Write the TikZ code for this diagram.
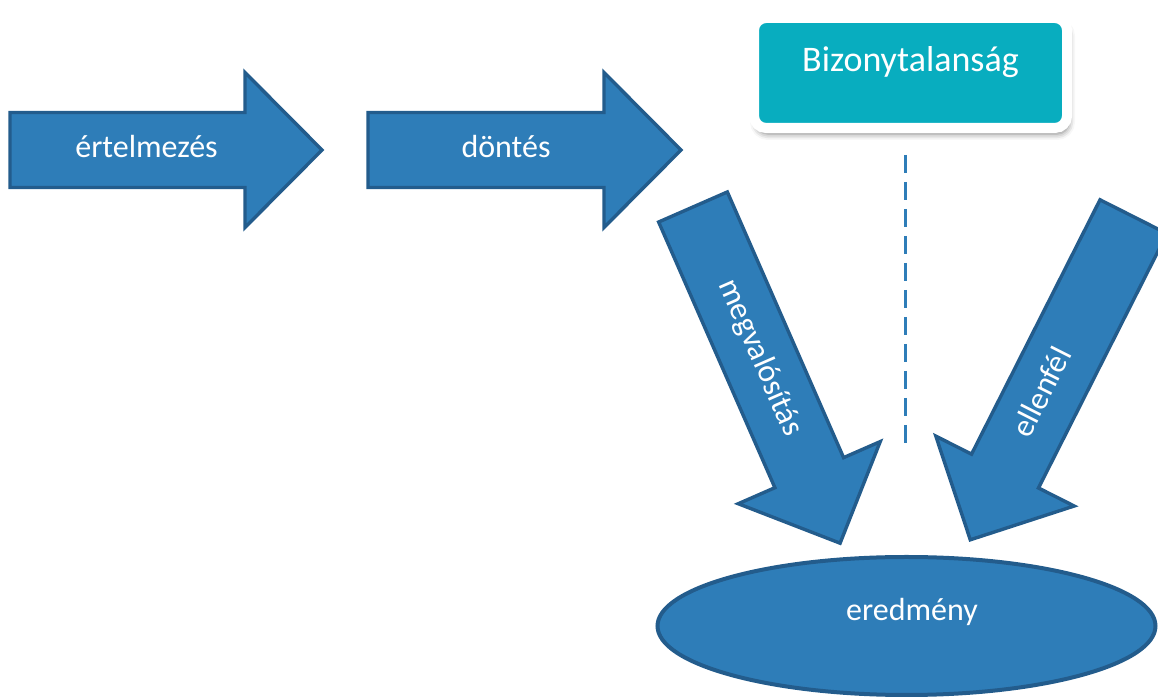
\documentclass[tikz,border=0pt]{standalone}
\usepackage{fontspec}
\setmainfont{Carlito}
\usetikzlibrary{shapes.geometric,shadows.blur}
\definecolor{arrowfill}{HTML}{2E7DB8}
\definecolor{arrowline}{HTML}{235C8C}
\definecolor{boxteal}{HTML}{08ADBF}
\tikzset{
  arrowbody/.style={fill=arrowfill, draw=arrowline, line width=1.7pt, line join=miter},
  arrowtext/.style={text=white, font=\fontsize{16}{19}\selectfont, inner sep=0pt,
    text height=7.5pt, text depth=0pt, anchor=center},
  pics/blockarrow/.style n args={4}{code={
    \draw[arrowbody] (0,-37.5) -- (#1-77,-37.5) -- (#1-77,-77.5) -- (#1,0)
      -- (#1-77,77.5) -- (#1-77,37.5) -- (0,37.5) -- cycle;
    \node[arrowtext,#3] (-label) at (#1*#2,0) {#4};
  }},
  bizobox/.style={rectangle, rounded corners=6pt, fill=boxteal, draw=white,
    line width=5pt, minimum width=156.5pt, minimum height=55pt, inner sep=0pt,
    blur shadow={shadow xshift=1pt, shadow yshift=-3pt, shadow blur radius=3pt, shadow opacity=50}},
  bizotext/.style={text=white, font=\fontsize{18}{22}\selectfont, inner sep=0pt,
    text height=8.5pt, text depth=0pt, anchor=center},
  dashline/.style={draw=arrowfill, line width=1.5pt, dash pattern=on 9pt off 4.5pt},
  resultell/.style={ellipse, fill=arrowfill, draw=arrowline, line width=2pt,
    minimum width=249pt, minimum height=69pt, inner sep=0pt},
  restext/.style={text=white, font=\fontsize{16}{19}\selectfont, inner sep=0pt,
    text height=7.5pt, text depth=0pt, anchor=center},
}
\begin{document}
\begin{tikzpicture}[x=0.5pt,y=-0.5pt]
\useasboundingbox (0,0) rectangle (1158,699);
\clip (0,0) rectangle (1158,699);
% horizontal arrows
\pic (interp) at (10,150) {blockarrow={312}{0.4375}{}{értelmezés}};
\pic (decide) at (368,150) {blockarrow={313}{0.441}{}{döntés}};
% diagonal arrows
\pic[rotate=-66.37] (impl) at (693,207) {blockarrow={367}{0.45}{rotate=-66.37}{megvalósítás}};
\pic[rotate=243.2] (opp) at (1133.5,216.7) {blockarrow={362}{0.547}{rotate=63.2}{ellenfél}};
% uncertainty box
\node[bizobox] (bizo) at (910.5,73) {};
\node[bizotext] (bizolabel) at (910.5,63) {Bizonytalanság};
% dashed line
\coordinate (dtop) at (905,155);
\coordinate (dbot) at (905,443);
\draw[dashline] (dtop) -- (dbot);
% result ellipse
\node[resultell] (res) at (906.5,626) {};
\node[restext] (reslabel) at (912,613) {eredmény};
\end{tikzpicture}
\end{document}
